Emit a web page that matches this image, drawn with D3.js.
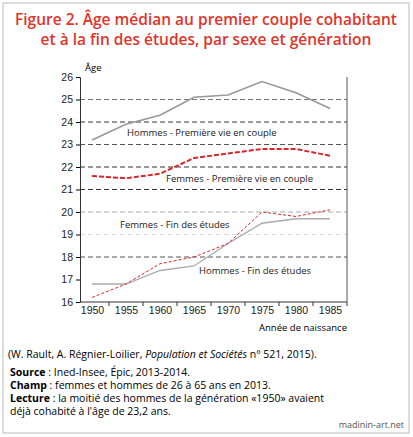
<!DOCTYPE html><html><head><meta charset="utf-8"><script src="https://d3js.org/d3.v7.min.js"></script>
<style>body{margin:0;background:#fff}svg{font-family:"Open Sans",sans-serif}</style></head><body><svg id="c" width="413" height="437"></svg>
<script>
const years=[1950,1955,1960,1965,1970,1975,1980,1985];
const hommesCouple=[23.2,23.9,24.3,25.1,25.2,25.8,25.3,24.6];
const femmesCouple=[21.6,21.5,21.7,22.4,22.6,22.8,22.8,22.5];
const femmesEtudes=[16.2,16.8,17.7,18.0,18.6,20.0,19.8,20.1];
const hommesEtudes=[16.8,16.8,17.4,17.6,18.6,19.5,19.7,19.7];
const yTicks=[16,17,18,19,20,21,22,23,24,25,26];
const gridColors={17:null,18:"#555",19:"#ddd",20:"#aaa",21:"#333",22:"#333",23:"#555",24:"#333",25:"#777",26:null};
const svg=d3.select("#c");
svg.append("rect").attr("x",3).attr("y",3).attr("width",406).attr("height",430).attr("fill","none").attr("stroke","#bbb");
svg.append("text").attr("x",206).attr("y",25).attr("text-anchor","middle").attr("fill","#e0352b").attr("font-size",15.5).attr("font-weight",600).text("Figure 2. Âge médian au premier couple cohabitant");
svg.append("text").attr("x",206).attr("y",45).attr("text-anchor","middle").attr("fill","#e0352b").attr("font-size",15.5).attr("font-weight",600).text("et à la fin des études, par sexe et génération");
const x=d3.scalePoint().domain(years).range([92,330]);
const y=d3.scaleLinear().domain([16,26]).range([302,77]);
const g=svg.append("g");
yTicks.forEach(t=>{const c=gridColors[t];if(c)g.append("line").attr("x1",80).attr("x2",347).attr("y1",y(t)).attr("y2",y(t)).attr("stroke",c).attr("stroke-dasharray","5,3");});
g.append("g").attr("transform","translate(80,0)").call(d3.axisLeft(y).tickValues(yTicks).tickSize(4).tickFormat(d3.format("d")))
 .call(a=>{a.select(".domain").attr("stroke","#333");a.selectAll("text").attr("font-size",10.5).attr("fill","#222");});
g.append("g").attr("transform","translate(0,302)").call(d3.axisBottom(x).tickSize(0).tickPadding(5))
 .call(a=>{a.select(".domain").remove();a.selectAll("text").attr("font-size",10.5).attr("fill","#222");});
g.append("line").attr("x1",80).attr("x2",347).attr("y1",302).attr("y2",302).attr("stroke","#333");
d3.range(8).forEach(i=>{const xp=x(years[i])+17;g.append("line").attr("x1",xp).attr("x2",xp).attr("y1",302).attr("y2",306).attr("stroke","#333");});
g.append("line").attr("x1",347).attr("x2",347).attr("y1",77).attr("y2",302).attr("stroke","#555");
const line=d3.line().x((d,i)=>x(years[i])).y(d=>y(d));
g.append("path").attr("d",line(hommesCouple)).attr("fill","none").attr("stroke","#999").attr("stroke-width",1.6);
g.append("path").attr("d",line(femmesCouple)).attr("fill","none").attr("stroke","#d9262a").attr("stroke-width",2).attr("stroke-dasharray","5,2");
g.append("path").attr("d",line(hommesEtudes)).attr("fill","none").attr("stroke","#aaa").attr("stroke-width",1.3);
g.append("path").attr("d",line(femmesEtudes)).attr("fill","none").attr("stroke","#d9262a").attr("stroke-width",1).attr("stroke-dasharray","3,2");
const lab=(t,xx,yy)=>g.append("text").attr("x",xx).attr("y",yy).attr("font-size",9.5).attr("fill","#222").text(t);
lab("Hommes - Première vie en couple",127,136);
lab("Femmes - Première vie en couple",166,182);
lab("Femmes - Fin des études",120,228);
lab("Hommes - Fin des études",199,274);
svg.append("text").attr("x",85).attr("y",71).attr("font-size",9.5).text("Âge");
svg.append("text").attr("x",347).attr("y",331).attr("text-anchor","end").attr("font-size",9.5).text("Année de naissance");
const fs=10.5;
svg.append("text").attr("x",8).attr("y",358).attr("font-size",fs).html('(W. Rault, A. Régnier-Loilier, <tspan font-style="italic">Population et Sociétés</tspan> n° 521, 2015).');
svg.append("text").attr("x",10).attr("y",376).attr("font-size",fs).html('<tspan font-weight="bold">Source</tspan> : Ined-Insee, Épic, 2013-2014.');
svg.append("text").attr("x",10).attr("y",389).attr("font-size",fs).html('<tspan font-weight="bold">Champ</tspan> : femmes et hommes de 26 à 65 ans en 2013.');
svg.append("text").attr("x",10).attr("y",402).attr("font-size",fs).html('<tspan font-weight="bold">Lecture</tspan> : la moitié des hommes de la génération «1950» avaient');
svg.append("text").attr("x",10).attr("y",415).attr("font-size",fs).text("déjà cohabité à l'âge de 23,2 ans.");
svg.append("text").attr("x",404).attr("y",428).attr("text-anchor","end").attr("font-size",9).attr("fill","#555").text("madinin-art.net");
</script></body></html>
